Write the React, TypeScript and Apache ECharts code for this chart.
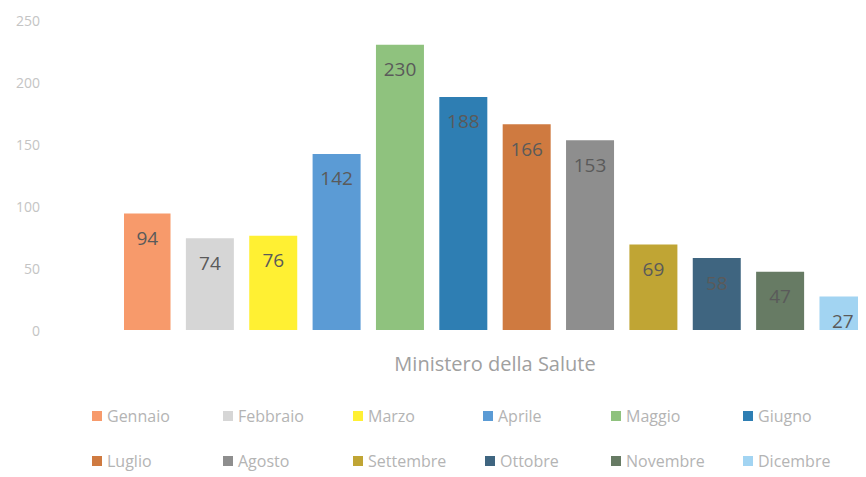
import React, { useEffect, useRef } from "react";
import * as echarts from "echarts";

const categories = ["Ministero della Salute"];
const months = [
  "Gennaio", "Febbraio", "Marzo", "Aprile", "Maggio", "Giugno",
  "Luglio", "Agosto", "Settembre", "Ottobre", "Novembre", "Dicembre",
];
const values = [94, 74, 76, 142, 230, 188, 166, 153, 69, 58, 47, 27];
const colors = [
  "#F79A6B", "#D6D6D6", "#FFF033", "#5B9BD5", "#8FC27E", "#2E7EB3",
  "#CF7A40", "#8E8E8E", "#C0A534", "#3F6580", "#677B64", "#A2D4F2",
];
const yTicks = [0, 50, 100, 150, 200, 250];
const legendPos = [
  [92, 408], [223, 408], [353, 408], [483, 408], [611, 408], [743, 408],
  [92, 453], [223, 453], [353, 453], [485, 453], [611, 453], [743, 453],
];

export default function App() {
  const ref = useRef<HTMLDivElement>(null);
  useEffect(() => {
    const chart = echarts.init(ref.current!, null, { renderer: "svg" });
    const font = "'Open Sans', Lato, sans-serif";
    chart.setOption({
      animation: false,
      backgroundColor: "#ffffff",
      grid: { left: 124, right: 0, top: 20, bottom: 147 },
      xAxis: {
        type: "category",
        data: categories,
        axisLine: { show: false },
        axisTick: { show: false },
        axisLabel: { color: "#a0a0a0", fontSize: 20, fontFamily: font, margin: 23 },
      },
      yAxis: {
        type: "value",
        min: yTicks[0],
        max: yTicks[yTicks.length - 1],
        interval: 50,
        splitLine: { show: false },
        axisLine: { show: false },
        axisTick: { show: false },
        axisLabel: { color: "#c4c4c4", fontSize: 14, fontFamily: font, margin: 84 },
      },
      legend: months.map((m, i) => ({
        data: [m],
        left: legendPos[i][0],
        top: legendPos[i][1],
        padding: 0,
        icon: "rect",
        itemWidth: 10,
        itemHeight: 10,
        itemGap: 0,
        textStyle: { color: "#b4b4b4", fontSize: 16, fontFamily: font },
        selectedMode: false,
      })),
      series: months.map((m, i) => ({
        name: m,
        type: "bar",
        data: [values[i]],
        barWidth: 48,
        barGap: "32%",
        itemStyle: { color: colors[i] },
        label: {
          show: true,
          position: "insideTop",
          distance: 15,
          color: "#5a5a5a",
          fontSize: 19,
          fontFamily: font,
        },
      })),
    });
    return () => chart.dispose();
  }, []);
  return <div ref={ref} style={{ width: 866, height: 477, marginTop: -8, marginLeft: -8, overflow: "hidden" }} />;
}
